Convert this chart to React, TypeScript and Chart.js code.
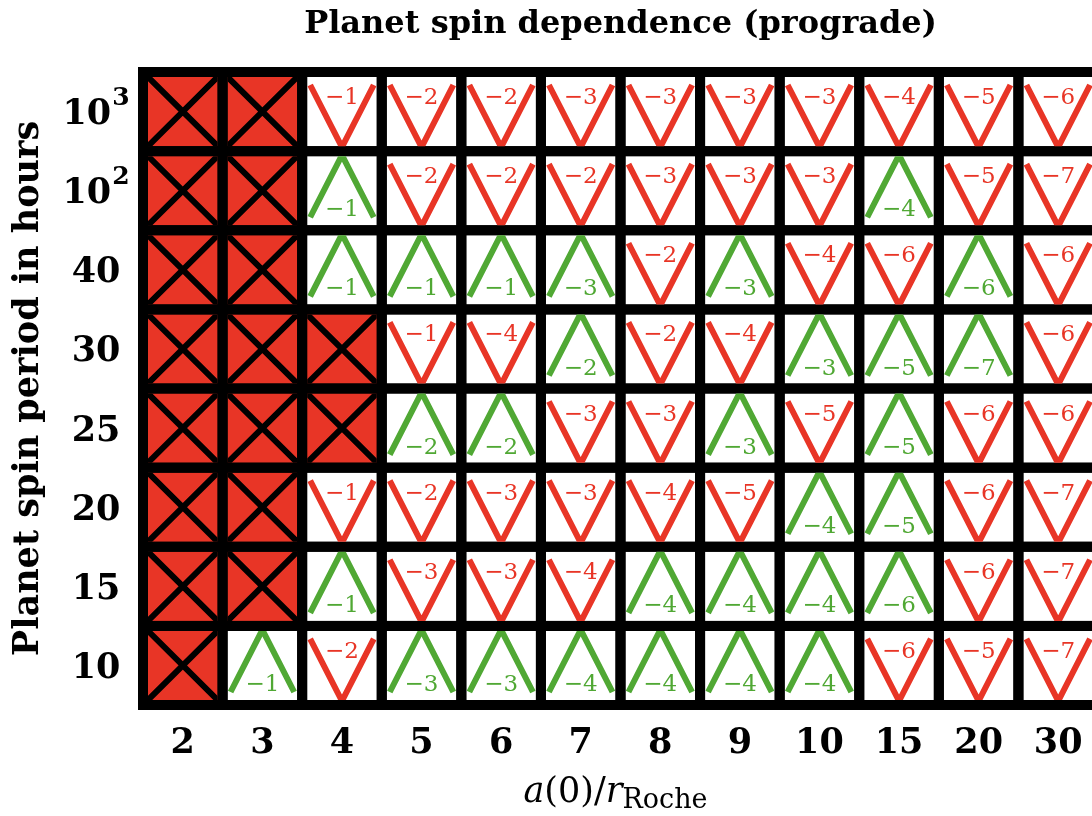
import React, { useEffect, useRef } from "react";
import { Chart, registerables } from "chart.js";

Chart.register(...registerables);

// Column categories: a(0)/r_Roche
const xLabels = ["2", "3", "4", "5", "6", "7", "8", "9", "10", "15", "20", "30"];
// Row categories: planet spin period in hours (top to bottom)
const yLabels = ["10³", "10²", "40", "30", "25", "20", "15", "10"];

// Cell codes: X = destroyed, V-n = decreasing (red, 10^-n), A-n = increasing (green, 10^-n)
const rowP1000 = ["X", "X", "V-1", "V-2", "V-2", "V-3", "V-3", "V-3", "V-3", "V-4", "V-5", "V-6"];
const rowP100 = ["X", "X", "A-1", "V-2", "V-2", "V-2", "V-3", "V-3", "V-3", "A-4", "V-5", "V-7"];
const rowP40 = ["X", "X", "A-1", "A-1", "A-1", "A-3", "V-2", "A-3", "V-4", "V-6", "A-6", "V-6"];
const rowP30 = ["X", "X", "X", "V-1", "V-4", "A-2", "V-2", "V-4", "A-3", "A-5", "A-7", "V-6"];
const rowP25 = ["X", "X", "X", "A-2", "A-2", "V-3", "V-3", "A-3", "V-5", "A-5", "V-6", "V-6"];
const rowP20 = ["X", "X", "V-1", "V-2", "V-3", "V-3", "V-4", "V-5", "A-4", "A-5", "V-6", "V-7"];
const rowP15 = ["X", "X", "A-1", "V-3", "V-3", "V-4", "A-4", "A-4", "A-4", "A-6", "V-6", "V-7"];
const rowP10 = ["X", "A-1", "V-2", "A-3", "A-3", "A-4", "A-4", "A-4", "A-4", "V-6", "V-5", "V-7"];

const rows = [rowP1000, rowP100, rowP40, rowP30, rowP25, rowP20, rowP15, rowP10];

const RED = "#e83526";
const GREEN = "#50a834";
const SUP: Record<string, string> = { "²": "2", "³": "3" };

const cellPlugin = {
  id: "cellPlugin",
  beforeDatasetsDraw(chart: any) {
    const { ctx, chartArea: a } = chart;
    ctx.save();
    ctx.fillStyle = "#000";
    ctx.fillRect(a.left - 5, a.top - 5, a.right - a.left + 10, a.bottom - a.top + 10);
    ctx.restore();
  },
  afterDatasetsDraw(chart: any) {
    const { ctx } = chart;
    const meta = chart.getDatasetMeta(0);
    const data = chart.data.datasets[0].data;
    const bw = chart.scales.x.width / xLabels.length;
    const bh = chart.scales.y.height / yLabels.length;
    meta.data.forEach((el: any, k: number) => {
      const code: string = data[k].code;
      const L = el.x - bw / 2 + 5;
      const R = el.x + bw / 2 - 5;
      const T = el.y - bh / 2 + 5;
      const B = el.y + bh / 2 - 5;
      const cx = el.x;
      ctx.save();
      ctx.beginPath();
      ctx.rect(L, T, R - L, B - T);
      ctx.clip();
      if (code === "X") {
        ctx.fillStyle = RED;
        ctx.fillRect(L, T, R - L, B - T);
        ctx.strokeStyle = "#000";
        ctx.lineWidth = 6;
        ctx.beginPath();
        ctx.moveTo(L - 2, T - 2);
        ctx.lineTo(R + 2, B + 2);
        ctx.moveTo(R + 2, T - 2);
        ctx.lineTo(L - 2, B + 2);
        ctx.stroke();
      } else {
        ctx.fillStyle = "#fff";
        ctx.fillRect(L, T, R - L, B - T);
        const up = code[0] === "A";
        const n = code.slice(2);
        const col = up ? GREEN : RED;
        ctx.strokeStyle = col;
        ctx.lineWidth = 6;
        ctx.lineJoin = "miter";
        ctx.lineCap = "butt";
        ctx.beginPath();
        if (up) {
          ctx.moveTo(L + 3, B - 8);
          ctx.lineTo(cx, T - 1);
          ctx.lineTo(R - 3, B - 8);
        } else {
          ctx.moveTo(L + 3, T + 8);
          ctx.lineTo(cx, B + 1);
          ctx.lineTo(R - 3, T + 8);
        }
        ctx.stroke();
        ctx.fillStyle = col;
        ctx.font = '23px "DejaVu Serif"';
        ctx.textAlign = "center";
        ctx.textBaseline = "alphabetic";
        const txt = "\u2212" + n;
        if (up) {
          ctx.fillText(txt, cx, B - 9);
        } else {
          ctx.fillText(txt, cx, T + 27);
        }
      }
      ctx.restore();
    });
  },
  afterDraw(chart: any) {
    const { ctx, chartArea: a } = chart;
    // y tick labels with real superscripts
    const ys = chart.scales.y;
    ctx.save();
    ctx.fillStyle = "#000";
    ctx.textBaseline = "alphabetic";
    ctx.textAlign = "left";
    yLabels.forEach((lab, i) => {
      const y = ys.getPixelForValue(i);
      const last = lab[lab.length - 1];
      const base = SUP[last] ? lab.slice(0, -1) : lab;
      const sup = SUP[last] || "";
      ctx.font = 'bold 35px "DejaVu Serif"';
      const wb = ctx.measureText(base).width;
      ctx.font = 'bold 25px "DejaVu Serif"';
      const ws = sup ? ctx.measureText(sup).width + 1 : 0;
      const x0 = 96 - (wb + ws) / 2;
      const baseline = y + 12.5;
      ctx.font = 'bold 35px "DejaVu Serif"';
      ctx.fillText(base, x0, baseline);
      if (sup) {
        ctx.font = 'bold 25px "DejaVu Serif"';
        ctx.fillText(sup, x0 + wb + 1, baseline - 19);
      }
    });
    ctx.restore();

    // x axis title a(0)/r_Roche
    const parts = [
      { t: "a", f: 'italic 35px "DejaVu Serif"', dy: 0 },
      { t: "(0)/", f: '35px "DejaVu Serif"', dy: 0 },
      { t: "r", f: 'italic 35px "DejaVu Serif"', dy: 0 },
      { t: "Roche", f: '27px "DejaVu Serif"', dy: 6 },
    ];
    ctx.save();
    ctx.fillStyle = "#000";
    ctx.textBaseline = "alphabetic";
    ctx.textAlign = "left";
    let total = 0;
    const widths = parts.map((p) => {
      ctx.font = p.f;
      const w = ctx.measureText(p.t).width;
      total += w;
      return w;
    });
    let x = (a.left + a.right) / 2 - 5 - total / 2;
    const base = 802;
    parts.forEach((p, i) => {
      ctx.font = p.f;
      ctx.fillText(p.t, x, base + p.dy);
      x += widths[i];
    });
    ctx.restore();
  },
};

export default function App() {
  const ref = useRef<HTMLCanvasElement | null>(null);
  useEffect(() => {
    if (!ref.current) return;
    const points: any[] = [];
    rows.forEach((row, i) => {
      row.forEach((code, j) => {
        points.push({ x: xLabels[j], y: yLabels[i], code });
      });
    });
    const chart = new Chart(ref.current, {
      type: "scatter",
      data: {
        datasets: [
          {
            data: points,
            pointRadius: 0,
            pointHoverRadius: 0,
            showLine: false,
          },
        ],
      },
      options: {
        animation: false,
        responsive: false,
        devicePixelRatio: 1,
        events: [],
        layout: { padding: { left: 0, right: 12, top: 0, bottom: 53 } },
        plugins: {
          legend: { display: false },
          tooltip: { enabled: false },
          title: {
            display: true,
            text: "Planet spin dependence (prograde)",
            fullSize: false,
            color: "#000",
            font: { family: "DejaVu Serif", weight: "bold", size: 32 },
            padding: { top: 5, bottom: 28.6 },
          },
        },
        scales: {
          x: {
            type: "category",
            labels: xLabels,
            offset: true,
            grid: { display: false, drawTicks: false },
            border: { display: false },
            ticks: {
              color: "#000",
              font: { family: "DejaVu Serif", weight: "bold", size: 35 },
              padding: 18,
              maxRotation: 0,
              autoSkip: false,
            },
            afterFit: (s: any) => {
              s.height = 58;
            },
          },
          y: {
            type: "category",
            labels: yLabels,
            offset: true,
            grid: { display: false, drawTicks: false },
            border: { display: false },
            ticks: { display: false },
            title: {
              display: true,
              text: "Planet spin period in hours",
              color: "#000",
              font: { family: "DejaVu Serif", weight: "bold", size: 35 },
              padding: { top: 8, bottom: 0 },
            },
            afterFit: (s: any) => {
              s.width = 143;
            },
          },
        },
      },
      plugins: [cellPlugin],
    } as any);
    return () => chart.destroy();
  }, []);
  return (
    <div
      style={{
        position: "fixed",
        left: 0,
        top: 0,
        width: 1092,
        height: 816,
        overflow: "hidden",
        background: "#fff",
      }}
    >
      <canvas ref={ref} width={1110} height={816} style={{ display: "block" }} />
    </div>
  );
}
